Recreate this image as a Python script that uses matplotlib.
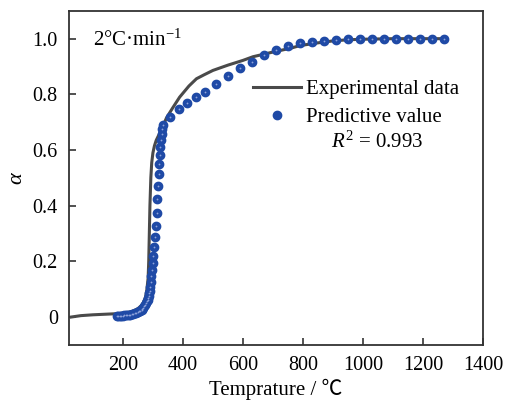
import matplotlib
matplotlib.use('Agg')
import matplotlib.pyplot as plt

# 字体设置
plt.rcParams['font.family'] = ['Liberation Serif', 'Noto Sans CJK SC', 'DejaVu Sans']
plt.rcParams['mathtext.fontset'] = 'custom'
plt.rcParams['mathtext.rm'] = 'Liberation Serif'
plt.rcParams['mathtext.it'] = 'Liberation Serif:italic'

# 实验数据 (温度 / ℃, α)
exp_temp = [28, 60, 100, 140, 180, 210, 230, 250, 265, 275, 280, 284, 286, 288,
            290, 293, 296, 300, 305, 311, 320, 333, 345, 365, 389, 420, 445,
            470, 500, 550, 600, 633, 700, 760, 789, 850, 900, 950, 1000, 1100, 1270]
exp_alpha = [0.0, 0.005, 0.008, 0.010, 0.012, 0.015, 0.020, 0.030, 0.045, 0.070,
             0.100, 0.140, 0.200, 0.300, 0.400, 0.500, 0.555, 0.590, 0.615, 0.635,
             0.655, 0.685, 0.715, 0.750, 0.790, 0.830, 0.856, 0.870, 0.886, 0.905,
             0.922, 0.935, 0.952, 0.966, 0.975, 0.985, 0.992, 0.996, 0.998, 1.0, 1.0]

# 预测值
pred_temp = [180, 185, 190, 195, 200, 205, 210, 215, 220, 225, 230, 235, 240, 245,
             250, 254, 258, 262, 265, 268, 271, 274, 277, 280, 282, 284, 286, 288,
             289, 291, 293, 295, 297, 299, 301, 303, 306, 309, 312, 314, 318, 319,
             321, 322, 324, 327, 329, 331, 335,
             356, 386, 415, 444, 474, 510, 550, 590, 630, 670, 710, 750, 790, 830,
             870, 910, 950, 990, 1030, 1070, 1110, 1150, 1190, 1230, 1270]
pred_alpha = [0.002, 0.003, 0.004, 0.005, 0.005, 0.006, 0.007, 0.008, 0.008, 0.009,
              0.010, 0.012, 0.013, 0.015, 0.018, 0.020, 0.023, 0.026, 0.030, 0.034,
              0.038, 0.043, 0.049, 0.056, 0.062, 0.069, 0.077, 0.086, 0.095, 0.108,
              0.126, 0.149, 0.170, 0.193, 0.221, 0.250, 0.287, 0.328, 0.375, 0.423,
              0.471, 0.513, 0.550, 0.583, 0.610, 0.635, 0.659, 0.677, 0.689,
              0.719, 0.747, 0.769, 0.789, 0.810, 0.837, 0.865, 0.893, 0.917, 0.941,
              0.958, 0.974, 0.983, 0.989, 0.993, 0.995, 0.998, 1.0, 1.0, 1.0, 1.0,
              1.0, 1.0, 1.0, 1.0]

x_ticks = [200, 400, 600, 800, 1000, 1200, 1400]
y_ticks = [0, 0.2, 0.4, 0.6, 0.8, 1.0]
y_tick_labels = ['0', '0.2', '0.4', '0.6', '0.8', '1.0']

fig = plt.figure(figsize=(5.14, 4.01), dpi=100)
ax = fig.add_axes([0.134, 0.140, 0.806, 0.833])

ax.plot(exp_temp, exp_alpha, color='#4a4a4a', linewidth=2.2, label='Experimental data', zorder=2)
ax.plot(pred_temp, pred_alpha, linestyle='none', marker='o', markersize=6,
        markerfacecolor='#1f4aa6', markeredgecolor='#1f4aa6', label='Predictive value', zorder=3)
# 高光效果
ax.plot(pred_temp, pred_alpha, linestyle='none', marker='o', markersize=1.3,
        markerfacecolor='#8da2da', markeredgewidth=0, zorder=4)

ax.set_xlim(20, 1400)
ax.set_ylim(-0.1, 1.1)
ax.set_xticks(x_ticks)
ax.set_yticks(y_ticks)
ax.set_yticklabels(y_tick_labels)
ax.tick_params(direction='in', length=5, width=1.2, labelsize=14.5, color='#333333',
               top=False, right=False, pad=8)
for sp in ax.spines.values():
    sp.set_linewidth(1.3)
    sp.set_color('#333333')

ax.set_xlabel('Temprature / ℃', fontsize=15, labelpad=3)
ax.set_ylabel(r'$\alpha$', fontsize=16, labelpad=4)

ax.text(0.058, 0.945, '2°C·min$^{-1}$', transform=ax.transAxes, fontsize=15,
        ha='left', va='top')

ax.legend(loc='upper left', bbox_to_anchor=(0.42, 0.826), frameon=False, fontsize=15,
          handlelength=2.3, handletextpad=0.25, borderpad=0, labelspacing=0.4)
ax.text(0.744, 0.608, '$R^2$ = 0.993', transform=ax.transAxes, fontsize=15,
        ha='center', va='center')

fig.savefig('out.png', dpi=100)
